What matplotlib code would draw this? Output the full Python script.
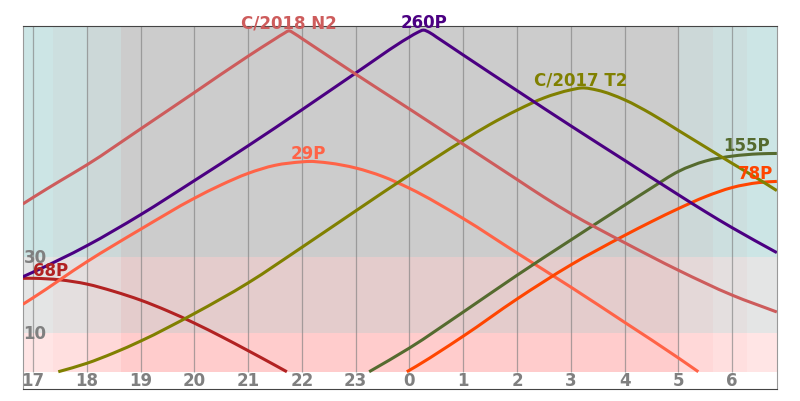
"""
Comet altitudes through one night: altitude (deg) against local hour,
with twilight bands and low-altitude zones shaded behind the curves.
"""

import matplotlib

matplotlib.use("Agg")
import matplotlib.pyplot as plt
from matplotlib.path import Path
from matplotlib.patches import PathPatch

# ── Data: hours on a continuous clock (24+ = after midnight), altitude in deg ──
N2_T = [16.81, 17.0, 17.5, 18.0, 19.0, 20.0, 21.0, 21.5, 21.66, 21.76, 21.86, 22.0,
        23.0, 24.0, 25.0, 26.0, 26.5, 27.0, 28.0, 29.0, 30.0, 30.83]
N2_ALT = [43.8, 45.5, 49.8, 54.0, 63.4, 72.9, 82.4, 86.9, 88.3, 89.0, 88.3, 87.0,
          77.7, 68.6, 59.4, 50.2, 45.6, 41.3, 33.7, 26.5, 20.0, 15.6]

P260_T = [16.81, 17.0, 18.0, 19.0, 20.0, 21.0, 22.0, 23.0, 24.0, 24.15, 24.26, 24.37,
          24.5, 25.0, 26.0, 27.0, 28.0, 29.0, 29.5, 30.0, 30.83]
P260_ALT = [24.8, 26.0, 32.9, 41.0, 49.9, 59.0, 68.4, 78.0, 87.4, 88.6, 89.2, 88.6,
            87.4, 82.7, 73.4, 64.2, 55.2, 46.2, 41.8, 37.6, 31.1]

T2_T = [17.47, 18.0, 18.5, 19.0, 20.0, 21.0, 22.0, 23.0, 24.0, 25.0, 25.5, 26.0, 26.5,
        27.0, 27.2, 27.5, 28.0, 28.5, 29.0, 29.5, 30.0, 30.5, 30.83]
T2_ALT = [0.0, 2.2, 4.9, 8.0, 15.2, 23.2, 32.5, 42.0, 51.4, 60.4, 64.6, 68.3, 71.5,
          73.6, 74.1, 73.5, 71.0, 67.3, 63.0, 58.7, 54.4, 50.2, 47.3]

P29_T = [16.81, 17.0, 18.0, 19.0, 20.0, 20.5, 21.0, 21.5, 22.0, 22.1, 22.5, 23.0, 23.5,
         24.0, 25.0, 26.0, 27.0, 28.0, 29.0, 29.37]
P29_ALT = [17.6, 19.3, 28.7, 37.2, 45.3, 48.8, 51.8, 53.9, 54.8, 54.9, 54.5, 53.2, 51.0,
           47.9, 40.0, 31.0, 22.1, 12.9, 3.6, 0.0]

P68_T = [16.81, 17.0, 17.5, 18.0, 18.5, 19.0, 19.5, 20.0, 20.5, 21.0, 21.5, 21.72]
P68_ALT = [24.4, 24.4, 24.0, 22.9, 21.0, 18.7, 15.9, 12.7, 9.2, 5.5, 1.7, 0.0]

P155_T = [23.25, 24.0, 25.0, 26.0, 27.0, 28.0, 28.5, 29.0, 29.5, 30.0, 30.5, 30.83]
P155_ALT = [0.0, 6.2, 15.6, 25.2, 34.4, 43.5, 48.0, 52.3, 55.0, 56.3, 56.9, 57.0]

P78_T = [23.95, 24.0, 25.0, 26.0, 27.0, 28.0, 28.5, 29.0, 29.5, 30.0, 30.5, 30.83]
P78_ALT = [0.0, 0.4, 9.3, 19.0, 27.9, 35.6, 39.2, 42.6, 45.7, 48.1, 49.4, 49.7]

# Twilight bands (start/end hour of each band) and what the sky is doing
SKY_EDGES = [16.814, 17.37, 18.0, 18.63, 29.01, 29.65, 30.28, 30.833]
SKY_KIND = ["civil", "nautical", "astro", "night", "astro", "nautical", "civil"]
ALT_ZONES = [0, 10, 30, 90.2]
HOURS = list(range(17, 31))

# ── Style ─────────────────────────────────────────────────────────────────────
SKY_GB = {"civil": 0xE5, "nautical": 0xDF, "astro": 0xD8, "night": 0xCC}
ZONE_R = [0xFF, 0xE4, 0xCC]     # <10, 10-30, >30 deg
LABEL_GRAY = "#808080"
FS = 12

# name, times, altitudes, colour, label x (hour)
COMETS = [
    ("68P", P68_T, P68_ALT, "#b22222", 17.33),
    ("29P", P29_T, P29_ALT, "#ff6347", 22.12),
    ("155P", P155_T, P155_ALT, "#556b2f", 30.26),
    ("78P", P78_T, P78_ALT, "#ff4500", 30.43),
    ("C/2017 T2", T2_T, T2_ALT, "#808000", 27.19),
    ("260P", P260_T, P260_ALT, "#4b0082", 24.27),
    ("C/2018 N2", N2_T, N2_ALT, "#cd5c5c", 21.76),
]


def curve_path(t, y):
    """Cubic Bezier path through the read-off points (smooth line rendering)."""
    n = len(t)
    slope = []
    for i in range(n):
        if i == 0:
            slope.append((y[1] - y[0]) / (t[1] - t[0]))
        elif i == n - 1:
            slope.append((y[-1] - y[-2]) / (t[-1] - t[-2]))
        else:
            h0, h1 = t[i] - t[i - 1], t[i + 1] - t[i]
            s0, s1 = (y[i] - y[i - 1]) / h0, (y[i + 1] - y[i]) / h1
            slope.append((s0 * h1 + s1 * h0) / (h0 + h1))
    verts, codes = [(t[0], y[0])], [Path.MOVETO]
    for i in range(n - 1):
        d = (t[i + 1] - t[i]) / 3
        verts += [(t[i] + d, y[i] + slope[i] * d),
                  (t[i + 1] - d, y[i + 1] - slope[i + 1] * d),
                  (t[i + 1], y[i + 1])]
        codes += [Path.CURVE4] * 3
    return Path(verts, codes)


def build():
    fig = plt.figure(figsize=(8, 4.02), dpi=100)
    ax = fig.add_axes([0.02875, 0.0299, 0.9425, 0.9022])
    ax.set_xlim(SKY_EDGES[0], SKY_EDGES[-1])
    ax.set_ylim(-4.5, ALT_ZONES[-1])

    # ── Background: sky state (columns) x altitude zone (rows) ────────────────
    for t0, t1, kind in zip(SKY_EDGES[:-1], SKY_EDGES[1:], SKY_KIND):
        gb = SKY_GB[kind]
        for lo, hi, r in zip(ALT_ZONES[:-1], ALT_ZONES[1:], ZONE_R):
            col = "#%02x%02x%02x" % (max(r, 0xCC), gb, gb)
            ax.fill_between([t0, t1], lo, hi, color=col, lw=0, zorder=0)

    ax.vlines(HOURS, 0, ALT_ZONES[-1], color="#808080", alpha=0.65, lw=0.9, zorder=1)

    # ── Comet curves + labels above their highest point ───────────────────────
    for name, t, alt, col, lx in COMETS:
        ax.add_patch(PathPatch(curve_path(t, alt), fill=False, edgecolor=col,
                               lw=2.2, zorder=3, capstyle="butt"))
        ax.annotate(name, (lx, max(alt)), xytext=(0, 3), textcoords="offset pixels",
                    ha="center", va="baseline", color=col, fontsize=FS,
                    fontweight="bold", annotation_clip=False, zorder=4)

    # ── Axis labels drawn inside the frame ────────────────────────────────────
    for h in HOURS:
        ax.text(h, -2.25, str(h % 24), ha="center", va="center", color=LABEL_GRAY,
                fontsize=FS, fontweight="bold", zorder=4)
    for a in (10, 30):
        ax.text(SKY_EDGES[0] + 0.01, a, str(a), ha="left", va="center",
                color=LABEL_GRAY, fontsize=FS, fontweight="bold", zorder=2)

    ax.set_xticks([])
    ax.set_yticks([])
    for s in ("top", "bottom"):
        ax.spines[s].set_color("#444444")
    for s in ("left", "right"):
        ax.spines[s].set_color("#999999")

    fig.savefig("out.png", dpi=100)
    plt.close(fig)


if __name__ == "__main__":
    build()
